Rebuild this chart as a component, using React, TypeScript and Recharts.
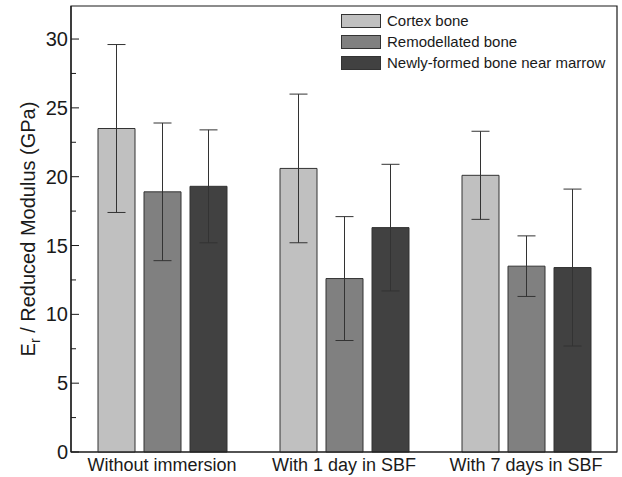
import { BarChart, Bar, XAxis, YAxis, ErrorBar, Legend, ReferenceArea } from 'recharts';

// Treatment groups along the x axis
const groups = ['Without immersion', 'With 1 day in SBF', 'With 7 days in SBF'];

// Mean reduced modulus (GPa) and standard deviation per bone region
const cortex = [23.5, 20.6, 20.1];
const cortexSd = [6.1, 5.4, 3.2];
const remodelled = [18.9, 12.6, 13.5];
const remodelledSd = [5.0, 4.5, 2.2];
const newlyFormed = [19.3, 16.3, 13.4];
const newlyFormedSd = [4.1, 4.6, 5.7];

const yTicks = [0, 2.5, 5, 7.5, 10, 12.5, 15, 17.5, 20, 22.5, 25, 27.5, 30];

const series = [
  { key: 'cortex', err: 'cortexSd', name: 'Cortex bone', color: '#c0c0c0' },
  { key: 'remodelled', err: 'remodelledSd', name: 'Remodellated bone', color: '#808080' },
  { key: 'newlyFormed', err: 'newlyFormedSd', name: 'Newly-formed bone near marrow', color: '#414141' },
];

const chartData = groups.map((group, i) => ({
  group,
  cortex: cortex[i],
  cortexSd: cortexSd[i],
  remodelled: remodelled[i],
  remodelledSd: remodelledSd[i],
  newlyFormed: newlyFormed[i],
  newlyFormedSd: newlyFormedSd[i],
}));

const FONT = '"Liberation Sans", Arial, sans-serif';
const INK = '#1a1a1a';

// Inward ticks: long ones with labels every 5, short ones in between
function YTick(props: any) {
  const { x, y, payload } = props;
  const major = payload.value % 5 === 0;
  return (
    <g>
      <line x1={x} x2={x + (major ? 8 : 5)} y1={y} y2={y} stroke={INK} strokeWidth={1} />
      {major && (
        <text x={x - 3} y={y} dy={7} textAnchor="end" fontSize={20} fontFamily={FONT} fill={INK}>
          {payload.value}
        </text>
      )}
    </g>
  );
}

function XTick(props: any) {
  const { x, y, payload } = props;
  return (
    <text x={x} y={y + 19} textAnchor="middle" fontSize={18} fontFamily={FONT} fill={INK}>
      {payload.value}
    </text>
  );
}

function YTitle() {
  return (
    <text
      transform="translate(35, 229) rotate(-90)"
      textAnchor="middle"
      fontSize={20}
      fontFamily={FONT}
      fill={INK}
    >
      E<tspan fontSize={14} dy={5}>r</tspan>
      <tspan dy={-5}> / Reduced Modulus (GPa)</tspan>
    </text>
  );
}

function LegendBox() {
  return (
    <div style={{ fontFamily: FONT, fontSize: 15, color: INK }}>
      {series.map((s) => (
        <div key={s.key} style={{ display: 'flex', alignItems: 'center', height: 21 }}>
          <span
            style={{
              width: 38,
              height: 12,
              background: s.color,
              border: '1px solid #333',
              marginRight: 6,
              display: 'inline-block',
            }}
          />
          <span>{s.name}</span>
        </div>
      ))}
    </div>
  );
}

export default function App() {
  return (
    <div style={{ position: 'absolute', left: 0, top: 0, width: 622, height: 477, background: '#fff' }}>
      <BarChart
        width={622}
        height={477}
        data={chartData}
        margin={{ top: 6, right: 5, bottom: 0, left: 0 }}
        barSize={37}
        barGap={9}
      >
        <ReferenceArea y1={0} y2={32.4} fill="none" stroke={INK} strokeWidth={1.2} />
        <XAxis
          dataKey="group"
          height={25}
          axisLine={{ stroke: INK, strokeWidth: 1.2 }}
          tickLine={false}
          tickSize={0}
          tickMargin={0}
          tick={<XTick />}
          interval={0}
        />
        <YAxis
          width={71}
          domain={[0, 32.4]}
          ticks={yTicks}
          axisLine={{ stroke: INK, strokeWidth: 1.2 }}
          tickLine={false}
          tickSize={0}
          tickMargin={0}
          tick={<YTick />}
          interval={0}
          label={<YTitle />}
        />
        <Legend
          layout="vertical"
          verticalAlign="middle"
          align="center"
          wrapperStyle={{ position: 'absolute', left: 341, top: 10, width: 270 }}
          content={<LegendBox />}
        />
        {series.map((s) => (
          <Bar
            key={s.key}
            dataKey={s.key}
            name={s.name}
            fill={s.color}
            stroke="#333"
            strokeWidth={1}
            isAnimationActive={false}
          >
            <ErrorBar dataKey={s.err} width={9} stroke="#333" strokeWidth={1} direction="y" />
          </Bar>
        ))}
      </BarChart>
    </div>
  );
}
